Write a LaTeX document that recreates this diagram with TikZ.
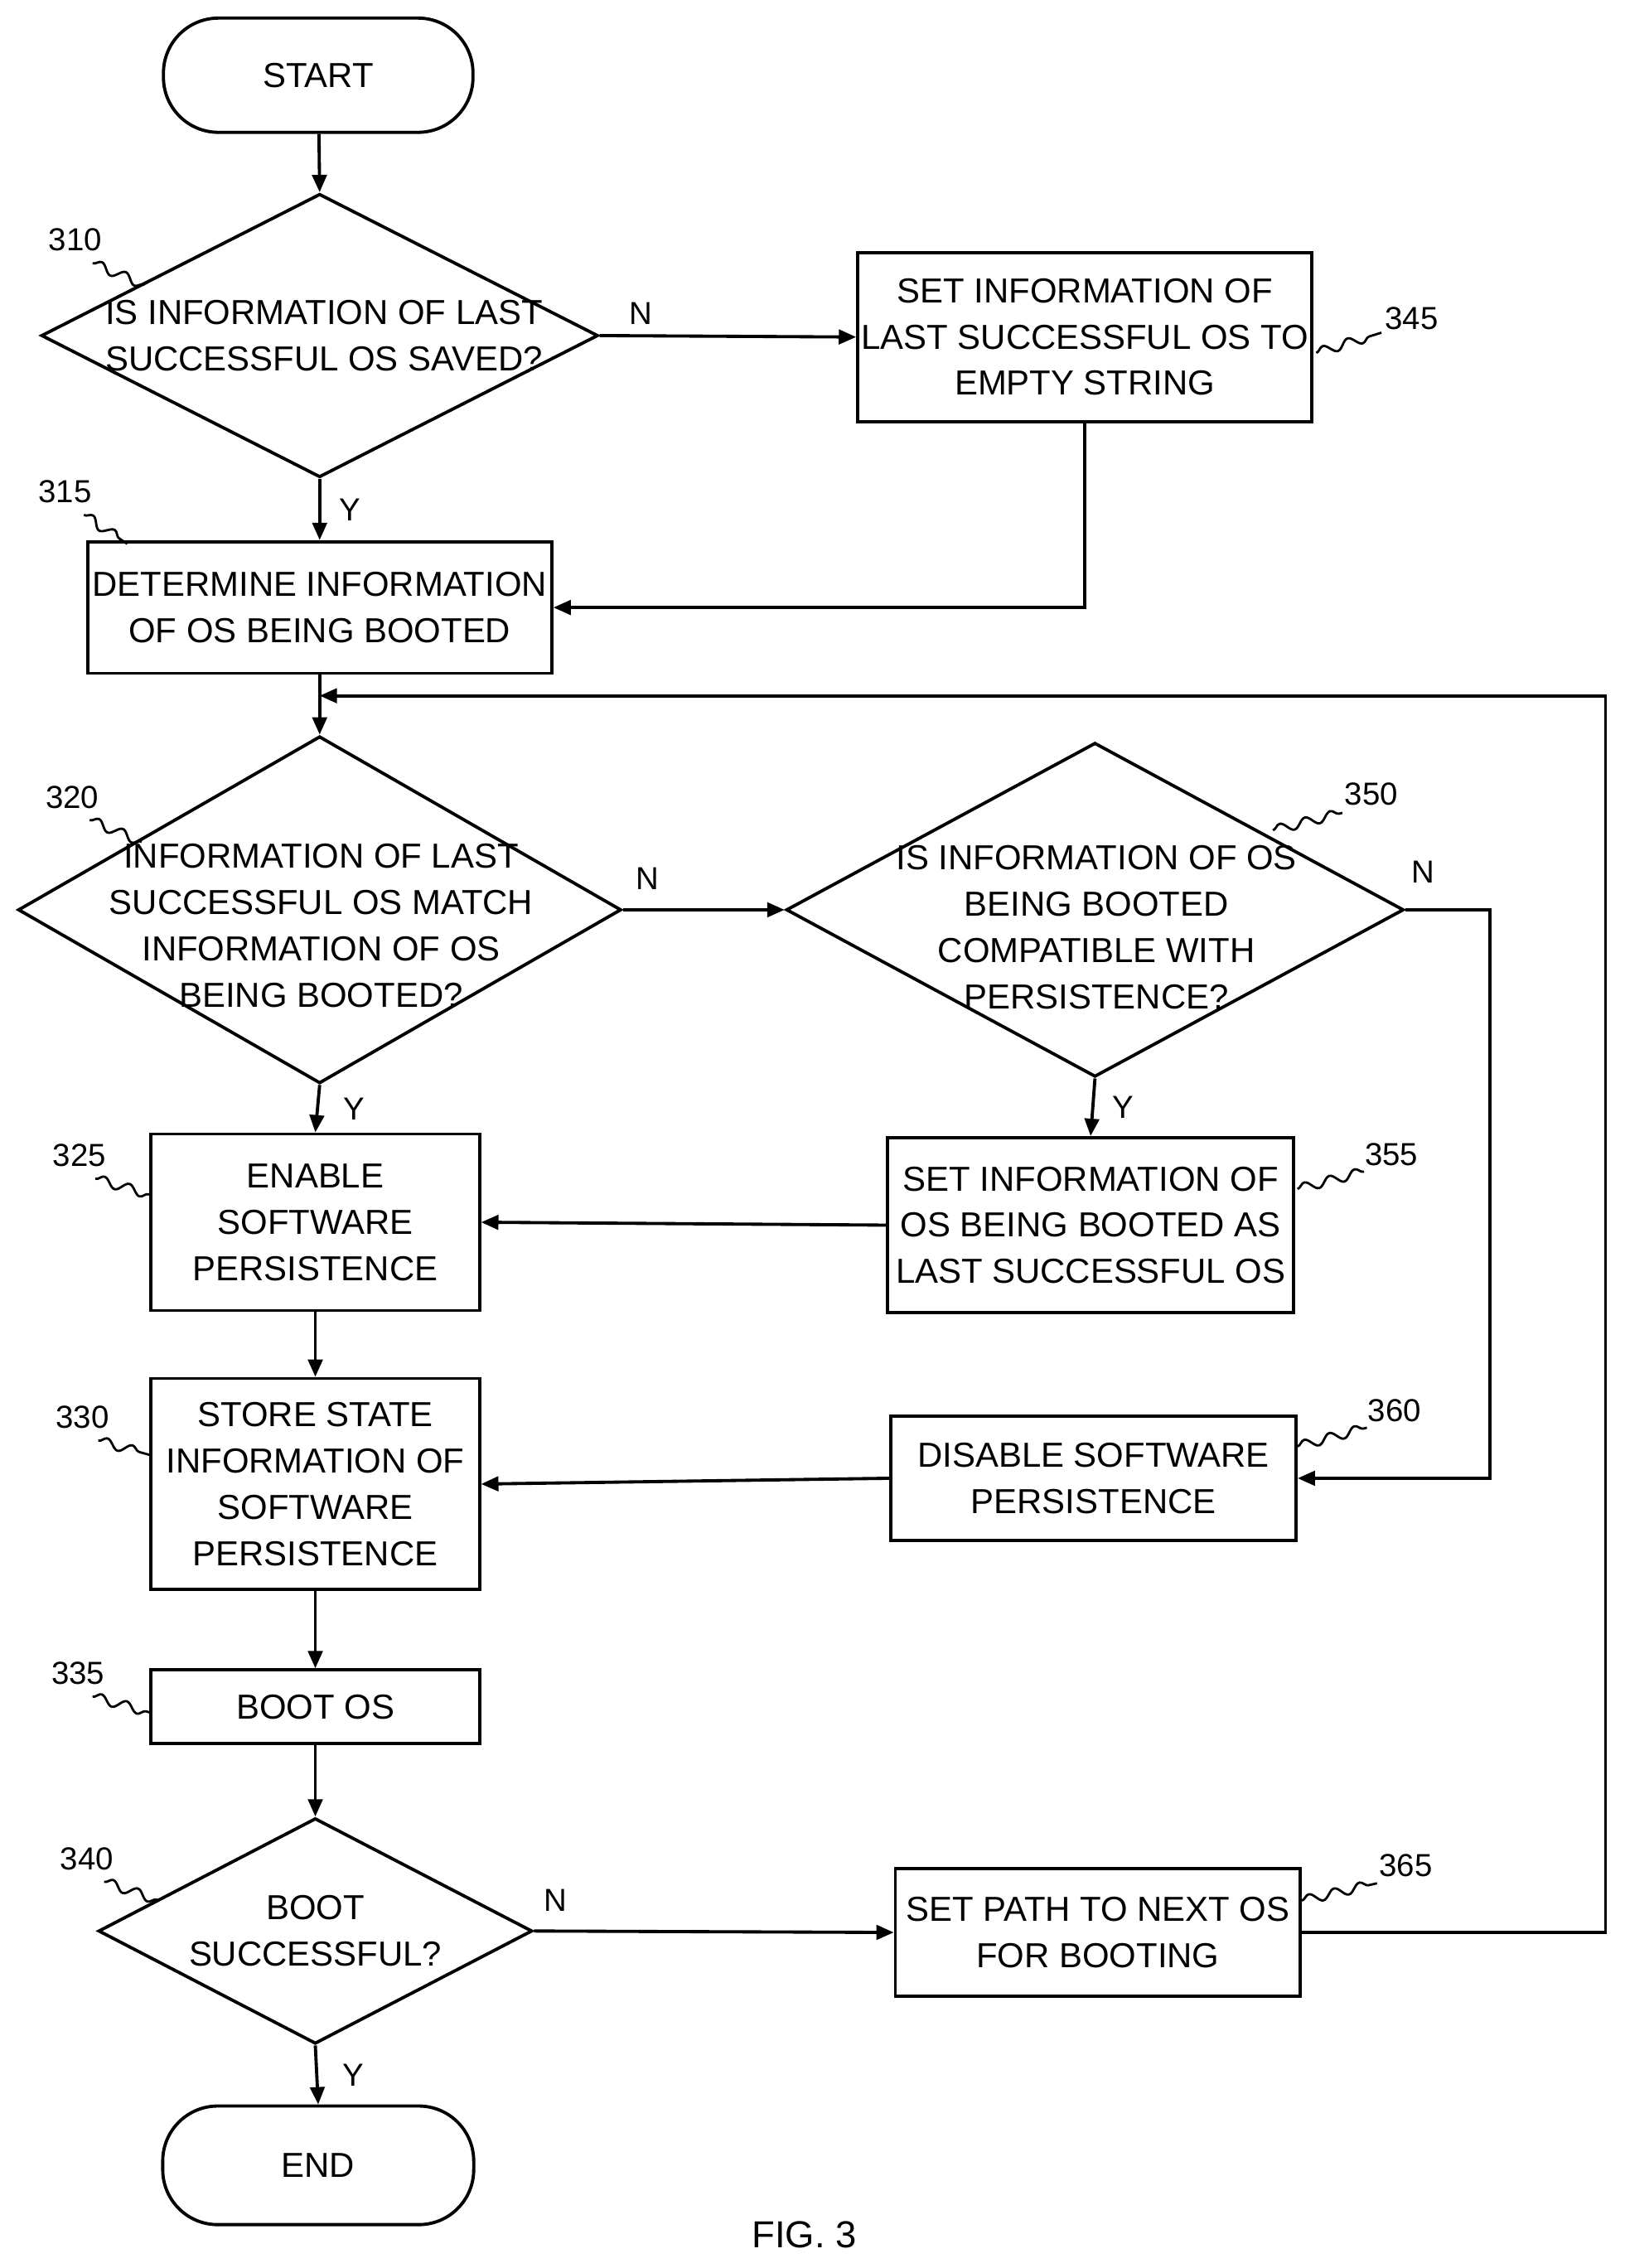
\documentclass[tikz,border=0pt]{standalone}
\usepackage{fontspec}
\setmainfont{Liberation Sans}
\usetikzlibrary{shapes.geometric,arrows.meta,decorations.pathmorphing}
\begin{document}
\begin{tikzpicture}[x=0.5pt,y=-0.5pt,
  box/.style={draw,line width=1.1pt,align=center,inner sep=0pt,font=\fontsize{12}{16}\selectfont},
  term/.style={box,rounded corners=19pt},
  dia/.style={draw,line width=1.1pt,diamond,inner sep=0pt},
  txt/.style={align=center,font=\fontsize{12}{16}\selectfont},
  lab/.style={font=\fontsize{11}{13}\selectfont},
  yn/.style={font=\fontsize{11}{13}\selectfont},
  ar/.style={line width=1.1pt,-{Triangle[length=6pt,width=5pt]}},
  ln/.style={line width=1.1pt},
  sq/.style={line width=0.8pt,decorate,decoration={snake,segment length=9pt,amplitude=1.6pt}}]
\useasboundingbox (0,0) rectangle (1123,1568);
\node[term,minimum width=107pt,minimum height=39.5pt] (start) at (220,52) {START};
\node[dia,minimum width=192.5pt,minimum height=98pt] (d310) at (221,232) {};
\node[txt] (t310) at (224,232) {IS INFORMATION OF LAST\\SUCCESSFUL OS SAVED?};
\node[box,minimum width=157pt,minimum height=58.5pt] (b345) at (750,233) {SET INFORMATION OF\\LAST SUCCESSFUL OS TO\\EMPTY STRING};
\node[box,minimum width=160.5pt,minimum height=45.5pt] (b315) at (221,420) {DETERMINE INFORMATION\\OF OS BEING BOOTED};
\node[dia,minimum width=208.5pt,minimum height=120pt] (d320) at (221,629) {};
\node[txt] (t320) at (222,640) {INFORMATION OF LAST\\SUCCESSFUL OS MATCH\\INFORMATION OF OS\\BEING BOOTED?};
\node[dia,minimum width=213.5pt,minimum height=115.5pt] (d350) at (757,629) {};
\node[txt] (t350) at (758,641) {IS INFORMATION OF OS\\BEING BOOTED\\COMPATIBLE WITH\\PERSISTENCE?};
\node[box,minimum width=113.5pt,minimum height=61pt] (b325) at (218,845) {ENABLE\\SOFTWARE\\PERSISTENCE};
\node[box,minimum width=140.5pt,minimum height=60.5pt] (b355) at (754,847) {SET INFORMATION OF\\OS BEING BOOTED AS\\LAST SUCCESSFUL OS};
\node[box,minimum width=113.5pt,minimum height=73pt] (b330) at (218,1026) {STORE STATE\\INFORMATION OF\\SOFTWARE\\PERSISTENCE};
\node[box,minimum width=140pt,minimum height=43pt] (b360) at (756,1022) {DISABLE SOFTWARE\\PERSISTENCE};
\node[box,minimum width=113.5pt,minimum height=25.5pt] (b335) at (218,1180) {BOOT OS};
\node[dia,minimum width=150pt,minimum height=78pt] (d340) at (218,1335) {};
\node[txt] (t340) at (218,1335) {BOOT\\SUCCESSFUL?};
\node[box,minimum width=140pt,minimum height=44pt] (b365) at (759,1336) {SET PATH TO NEXT OS\\FOR BOOTING};
\node[term,minimum width=107.5pt,minimum height=41pt] (end) at (220,1497) {END};
\node[font=\fontsize{13}{15}\selectfont] (fig) at (556,1545) {FIG. 3};
% labels
\node[lab] (l310) at (52,166) {310};
\node[lab] (l345) at (976,220) {345};
\node[lab] (l315) at (45,340) {315};
\node[lab] (l320) at (50,551) {320};
\node[lab] (l350) at (948,549) {350};
\node[lab] (l325) at (55,799) {325};
\node[lab] (l355) at (962,798) {355};
\node[lab] (l330) at (57,980) {330};
\node[lab] (l360) at (964,975) {360};
\node[lab] (l335) at (54,1157) {335};
\node[lab] (l340) at (60,1285) {340};
\node[lab] (l365) at (972,1290) {365};
\draw[sq] (64,182) -- (100,197);
\draw[sq] (910,244) -- (955,230);
\draw[sq] (58,356) -- (88,376);
\draw[sq] (62,567) -- (98,582);
\draw[sq] (880,574) -- (928,562);
\draw[sq] (66,815) -- (104,826);
\draw[sq] (897,822) -- (943,810);
\draw[sq] (68,996) -- (104,1006);
\draw[sq] (897,1000) -- (945,987);
\draw[sq] (64,1173) -- (104,1184);
\draw[sq] (72,1301) -- (110,1314);
\draw[sq] (900,1314) -- (952,1302);
% connectors
\draw[ar] (start) -- (d310.north);
\draw[ar] (d310.east) -- (b345.west) node[yn,pos=0.16,above] {N};
\draw[ar] (d310.south) -- (b315.north) node[yn,midway,right=3pt] {Y};
\draw[ar] (b345.south) |- (b315.east);
\coordinate (j) at (221,481);
\draw[ar] (b315.south) -- (d320.north);
\coordinate (r) at (1110,481);
\draw[ar] (b365.east) -| (r) -- (j);
\draw[ar] (d320.east) -- (d350.west) node[yn,pos=0.15,above=3pt] {N};
\coordinate (r2) at (1030,629);
\draw[ar] (d350.east) -- (r2) |- (b360.east);
\node[yn] (n350) at (984,603) {N};
\draw[ar] (d350.south) -- (b355.north) node[yn,midway,right=3pt] {Y};
\draw[ar] (d320.south) -- (b325.north) node[yn,midway,right=5pt] {Y};
\draw[ar] (b355.west) -- (b325.east);
\draw[ar] (b325.south) -- (b330.north);
\draw[ar] (b360.west) -- (b330.east);
\draw[ar] (b330.south) -- (b335.north);
\draw[ar] (b335.south) -- (d340.north);
\draw[ar] (d340.east) -- (b365.west) node[yn,pos=0.06,above=3pt] {N};
\draw[ar] (d340.south) -- (end.north) node[yn,midway,right=5pt] {Y};
\end{tikzpicture}
\end{document}
